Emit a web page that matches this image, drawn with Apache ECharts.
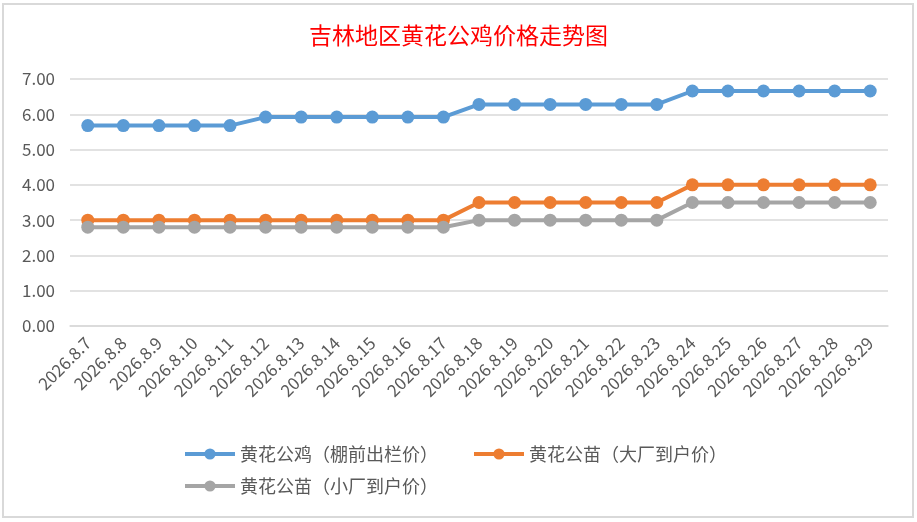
<!DOCTYPE html>
<html>
<head>
<meta charset="utf-8">
<script src="https://cdn.jsdelivr.net/npm/echarts@6/dist/echarts.min.js"></script>
<style>
  html, body { margin: 0; padding: 0; background: #fff; }
  #canvas { width: 917px; height: 522px; }
</style>
</head>
<body>
<div id="canvas"></div>
<script>
const dates = [
  '2026.8.7', '2026.8.8', '2026.8.9', '2026.8.10', '2026.8.11', '2026.8.12',
  '2026.8.13', '2026.8.14', '2026.8.15', '2026.8.16', '2026.8.17', '2026.8.18',
  '2026.8.19', '2026.8.20', '2026.8.21', '2026.8.22', '2026.8.23', '2026.8.24',
  '2026.8.25', '2026.8.26', '2026.8.27', '2026.8.28', '2026.8.29',
];
// 黄花公鸡（棚前出栏价）
const roosterPrice = [
  5.68, 5.68, 5.68, 5.68, 5.68, 5.92, 5.92, 5.92, 5.92, 5.92, 5.92, 6.28,
  6.28, 6.28, 6.28, 6.28, 6.28, 6.66, 6.66, 6.66, 6.66, 6.66, 6.66,
];
// 黄花公苗（大厂到户价）
const chickBigPrice = [
  3.0, 3.0, 3.0, 3.0, 3.0, 3.0, 3.0, 3.0, 3.0, 3.0, 3.0, 3.5,
  3.5, 3.5, 3.5, 3.5, 3.5, 4.0, 4.0, 4.0, 4.0, 4.0, 4.0,
];
// 黄花公苗（小厂到户价）
const chickSmallPrice = [
  2.8, 2.8, 2.8, 2.8, 2.8, 2.8, 2.8, 2.8, 2.8, 2.8, 2.8, 3.0,
  3.0, 3.0, 3.0, 3.0, 3.0, 3.5, 3.5, 3.5, 3.5, 3.5, 3.5,
];
const seriesNames = ['黄花公鸡（棚前出栏价）', '黄花公苗（大厂到户价）', '黄花公苗（小厂到户价）'];
const colors = ['#5b9bd5', '#ed7d31', '#a5a5a5'];

const chart = echarts.init(document.getElementById('canvas'));

const font = '"Noto Sans CJK SC", "Noto Sans", sans-serif';

function lineSeries(name, data, color) {
  return {
    name,
    type: 'line',
    data,
    symbol: 'circle',
    symbolSize: 13,
    itemStyle: { color },
    lineStyle: { color, width: 4 },
    animation: false,
  };
}

// two legend rows, same look
function legendRow(top, data) {
  return {
    left: 178,
    top,
    itemWidth: 50,
    itemHeight: 14,
    itemGap: 34,
    lineStyle: { width: 4 },
    textStyle: { color: '#595959', fontSize: 18, fontFamily: font },
    data,
  };
}

const option = {
  color: colors,
  title: {
    text: '吉林地区黄花公鸡价格走势图',
    left: 'center',
    top: 19,
    textStyle: {
      color: '#ff0000',
      fontSize: 23,
      fontWeight: 'normal',
      fontFamily: font,
    },
  },
  graphic: [
    {
      type: 'rect',
      shape: { x: 3, y: 4, width: 910, height: 513 },
      style: { fill: 'none', stroke: '#d9d9d9', lineWidth: 2 },
      silent: true,
    },
  ],
  grid: {
    left: 70,
    right: 29,
    top: 79,
    bottom: 196,
    containLabel: false,
  },
  legend: [
    legendRow(440, seriesNames.slice(0, 2)),
    legendRow(472, seriesNames.slice(2)),
  ],
  xAxis: {
    type: 'category',
    data: dates,
    boundaryGap: true,
    axisLine: { lineStyle: { color: '#d9d9d9', width: 1.5 } },
    axisTick: { show: false },
    axisLabel: {
      rotate: 45,
      interval: 0,
      margin: 14,
      color: '#595959',
      fontSize: 17,
      fontFamily: font,
    },
  },
  yAxis: {
    type: 'value',
    min: 0,
    max: 7,
    interval: 1,
    axisLine: { show: false },
    axisTick: { show: false },
    axisLabel: {
      margin: 15,
      color: '#595959',
      fontSize: 17,
      fontFamily: font,
      formatter: (v) => v.toFixed(2),
    },
    splitLine: { lineStyle: { color: '#d9d9d9', width: 1.5 } },
  },
  series: [
    lineSeries(seriesNames[0], roosterPrice, colors[0]),
    lineSeries(seriesNames[1], chickBigPrice, colors[1]),
    lineSeries(seriesNames[2], chickSmallPrice, colors[2]),
  ],
};

chart.setOption(option);

window.onresize = chart.resize;
</script>
</body>
</html>
